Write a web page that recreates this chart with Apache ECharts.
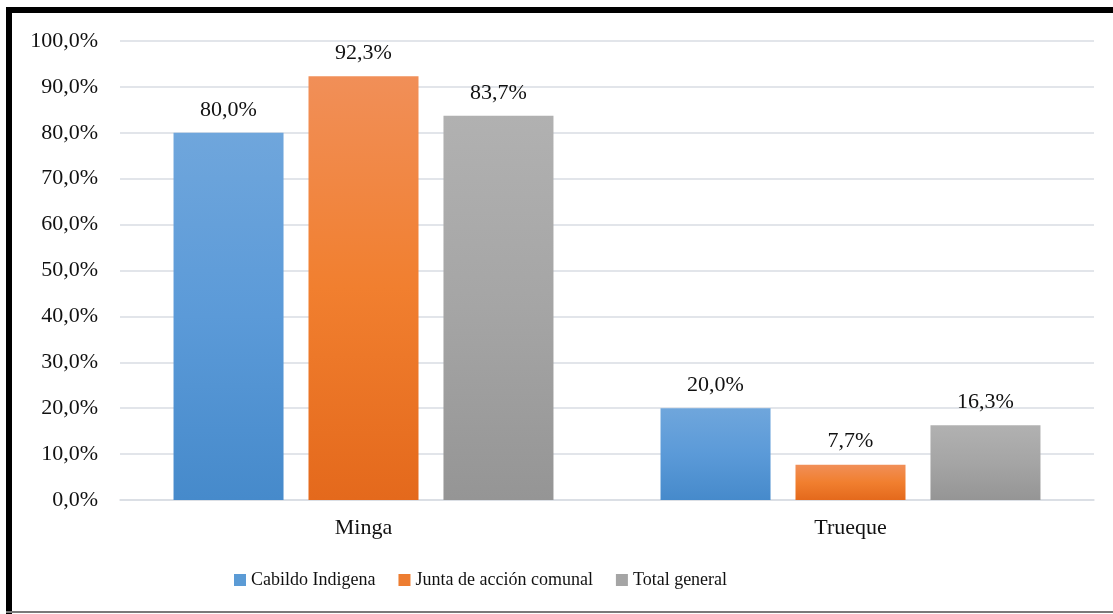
<!DOCTYPE html>
<html>
<head>
<meta charset="utf-8">
<script src="https://cdn.jsdelivr.net/npm/echarts@6/dist/echarts.min.js"></script>
<style>
  html, body { margin: 0; padding: 0; background: #ffffff; }
  #chart { width: 1113px; height: 614px; }
</style>
</head>
<body>
<div id="chart"></div>
<script>
// Categories and series values (percent)
const categories = ['Minga', 'Trueque'];
const cabildoIndigena = [80.0, 20.0];
const juntaAccionComunal = [92.3, 7.7];
const totalGeneral = [83.7, 16.3];
const seriesNames = ['Cabildo Indigena', 'Junta de acción comunal', 'Total general'];

const FONT = "'Liberation Serif', 'Times New Roman', serif";
const fmtPct = v => v.toFixed(1).replace('.', ',') + '%';

function grad(top, mid, bottom) {
  return new echarts.graphic.LinearGradient(0, 0, 0, 1, [
    { offset: 0, color: top },
    { offset: 0.5, color: mid },
    { offset: 1, color: bottom }
  ]);
}

const fills = [
  grad('#6fa6dc', '#5b9ad8', '#468acb'),
  grad('#f18f58', '#f17f2f', '#e4691c'),
  grad('#b1b1b1', '#a5a5a5', '#959595')
];
const legendColors = ['#5b9bd5', '#ed7d31', '#a5a5a5'];

function barSeries(name, data, i) {
  return {
    name: name,
    type: 'bar',
    data: data,
    barWidth: 110,
    barGap: '22.7%',
    itemStyle: { color: fills[i] },
    label: {
      show: true,
      position: 'top',
      distance: 12,
      formatter: p => fmtPct(p.value),
      fontFamily: FONT,
      fontSize: 22,
      color: '#111'
    },
    emphasis: { disabled: true }
  };
}

const chart = echarts.init(document.getElementById('chart'), null, { renderer: 'canvas' });
chart.setOption({
  animation: false,
  backgroundColor: '#ffffff',
  color: legendColors,
  grid: { left: 120, right: 19, top: 41, bottom: 114, containLabel: false },
  legend: {
    left: 229,
    top: 566,
    itemWidth: 12,
    itemHeight: 12,
    itemGap: 23,
    icon: 'rect',
    textStyle: { fontFamily: FONT, fontSize: 18, color: '#111' },
    data: seriesNames.map((n, i) => ({ name: n, itemStyle: { color: legendColors[i] } }))
  },
  xAxis: {
    type: 'category',
    data: categories,
    axisLine: { show: true, lineStyle: { color: '#d9dde3', width: 1.5 } },
    axisTick: { show: false },
    axisLabel: { margin: 17, fontFamily: FONT, fontSize: 22, color: '#111' }
  },
  yAxis: {
    type: 'value',
    min: 0,
    max: 100,
    interval: 10,
    axisLine: { show: false },
    axisTick: { show: false },
    splitLine: { lineStyle: { color: '#d9dde3', width: 1.5 } },
    axisLabel: {
      margin: 22,
      formatter: v => fmtPct(v),
      fontFamily: FONT,
      fontSize: 22,
      color: '#111'
    }
  },
  series: [
    barSeries(seriesNames[0], cabildoIndigena, 0),
    barSeries(seriesNames[1], juntaAccionComunal, 1),
    barSeries(seriesNames[2], totalGeneral, 2)
  ],
  graphic: [
    // frame: heavy black top and left edges, thin grey bottom edge
    { type: 'rect', shape: { x: 6, y: 7, width: 1107, height: 6 }, style: { fill: '#000' }, silent: true },
    { type: 'rect', shape: { x: 6, y: 7, width: 6, height: 607 }, style: { fill: '#000' }, silent: true },
    { type: 'rect', shape: { x: 6, y: 611, width: 1107, height: 2 }, style: { fill: '#7a7a7a' }, silent: true }
  ]
});
</script>
</body>
</html>
